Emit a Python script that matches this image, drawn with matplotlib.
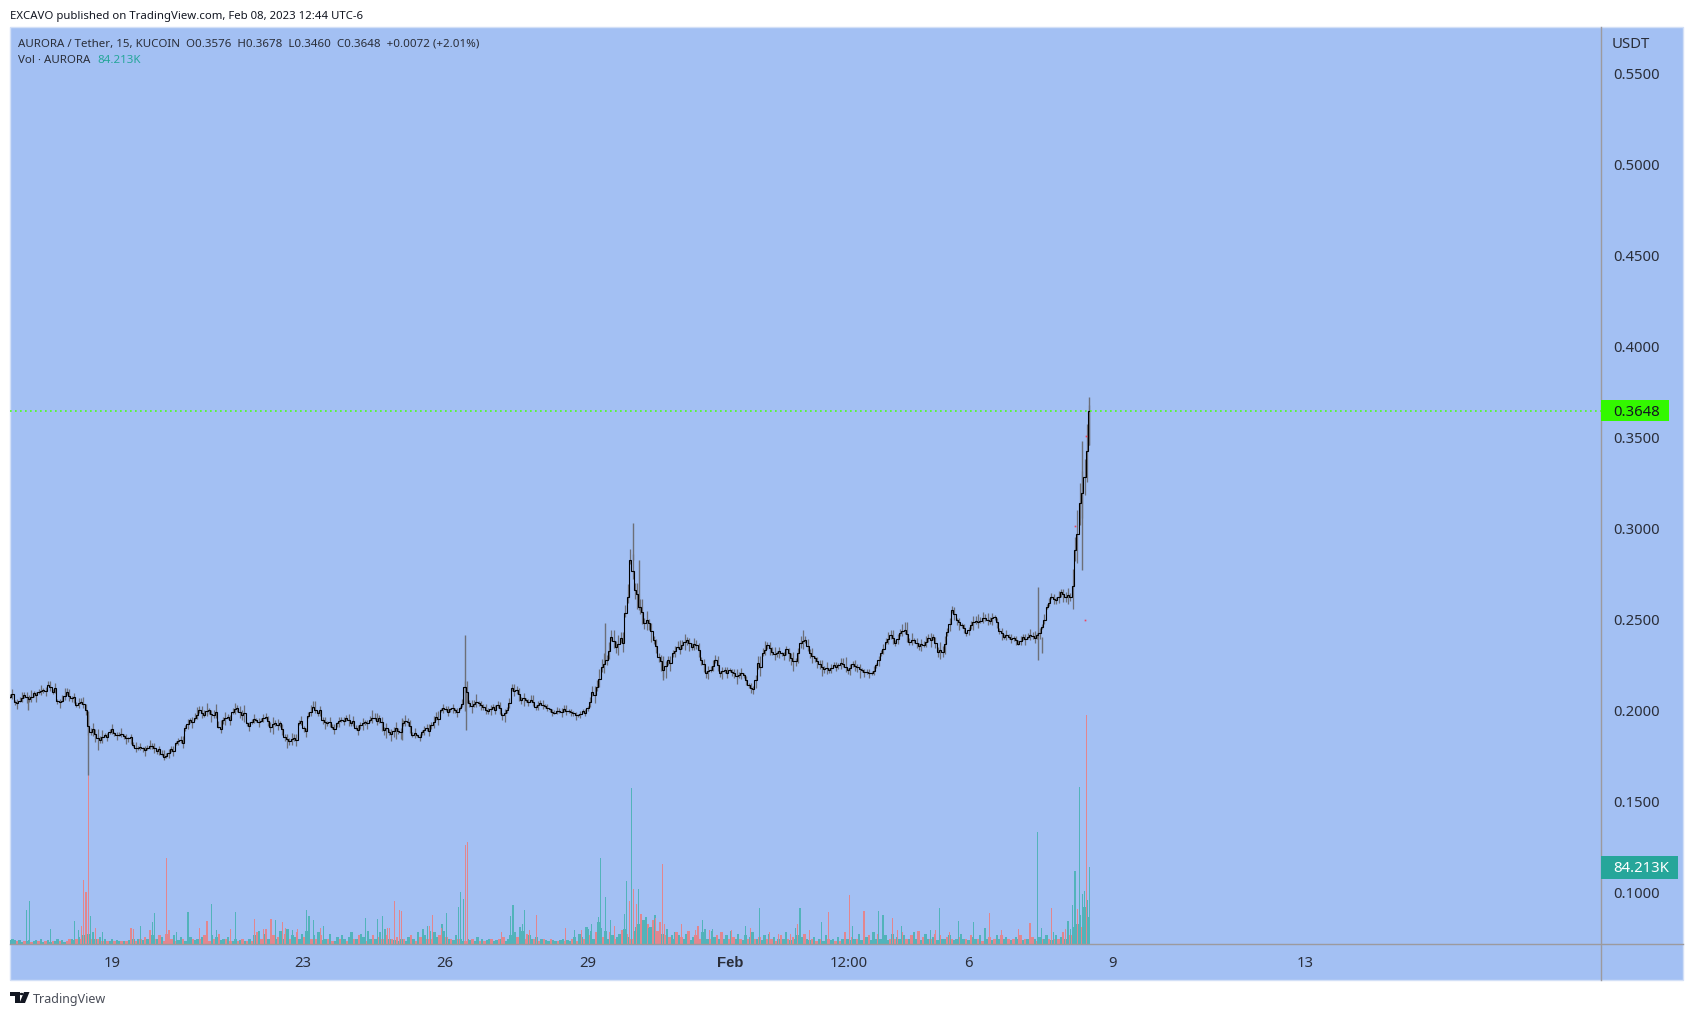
import numpy as np
import matplotlib
matplotlib.use("Agg")
import matplotlib.pyplot as plt
from matplotlib.patches import Rectangle, Polygon, Circle
from matplotlib.lines import Line2D

# ---- values ----
close = [
.2078,.2050,.2056,.2087,.2063,.2096,.2101,.2114,.2142,.2105,.2056,.2056,.2105,.2069,.2032,.2050,.2005,.1886,.1870,.1840,
.1867,.1886,.1876,.1867,.1860,.1850,.1812,.1794,.1794,.1794,.1807,.1781,.1761,.1752,.1789,.1822,.1840,.1904,.1950,.1959,
.2005,.1977,.2005,.1977,.1913,.1950,.1968,.1995,.2014,.1977,.1931,.1940,.1950,.1946,.1968,.1913,.1931,.1931,.1858,.1835,
.1849,.1931,.1904,.1970,.2023,.1986,.1950,.1931,.1913,.1931,.1950,.1959,.1931,.1904,.1922,.1940,.1950,.1959,.1959,.1895,
.1886,.1891,.1891,.1931,.1940,.1867,.1867,.1885,.1903,.1922,.1967,.2004,.2008,.2008,.2004,.2013,.2132,.2041,.2037,.2041,
.2019,.2000,.2019,.2031,.1976,.2004,.2123,.2114,.2059,.2059,.2062,.2022,.2044,.2026,.2008,.1989,.2000,.2008,.2000,.1989,
.1976,.2000,.2013,.2105,.2130,.2242,.2279,.2407,.2352,.2398,.2535,.2828,.2663,.2571,.2480,.2480,.2388,.2297,.2224,.2279,
.2315,.2352,.2361,.2388,.2352,.2361,.2279,.2205,.2224,.2279,.2205,.2224,.2224,.2205,.2196,.2196,.2141,.2117,.2260,.2315,
.2361,.2324,.2315,.2315,.2337,.2288,.2275,.2370,.2388,.2315,.2288,.2257,.2228,.2224,.2251,.2251,.2257,.2224,.2257,.2242,
.2224,.2215,.2206,.2251,.2315,.2379,.2416,.2374,.2425,.2443,.2379,.2388,.2356,.2361,.2398,.2403,.2324,.2324,.2434,.2553,
.2498,.2471,.2425,.2471,.2495,.2495,.2507,.2495,.2513,.2440,.2406,.2406,.2397,.2369,.2406,.2406,.2410,.2415,.2461,.2571,
.2626,.2607,.2653,.2626,.2626,.2882,.3138,.3284,.3648]

# wick reach above / below the close, in 0.0001 price units
wick_up = [
15,12,20,14,25,10,18,12,22,16,8,28,20,10,14,22,30,18,30,22,
12,14,10,16,12,8,18,12,10,20,16,8,22,14,16,10,20,18,12,28,
24,30,12,26,32,18,14,22,16,30,10,16,8,12,18,24,20,12,14,18,
22,16,10,24,30,14,18,12,16,10,14,20,12,18,14,10,24,28,16,18,
14,22,12,18,20,16,8,12,24,18,26,14,18,10,12,14,30,18,24,12,
20,14,16,22,12,18,26,20,16,12,26,10,14,12,8,14,16,22,12,10,
8,12,16,30,38,40,28,34,30,36,44,60,36,44,30,26,22,20,18,24,
16,30,26,18,22,26,18,16,20,30,12,18,10,26,16,12,14,18,40,30,
18,26,14,10,16,30,16,40,20,26,14,22,18,12,16,14,34,12,18,16,
10,12,14,12,18,22,26,14,24,46,22,14,16,20,24,18,26,30,20,24,
14,12,10,20,28,22,26,18,14,16,16,14,12,18,16,20,22,14,18,16,
18,20,14,24,20,70,110,100,30]
wick_dn = [
10,16,8,18,12,20,10,14,8,12,18,10,16,20,12,10,26,20,40,18,
10,16,12,8,14,20,12,10,18,8,14,16,10,12,14,10,16,14,18,10,
16,12,24,18,10,22,14,12,20,28,16,10,14,8,12,30,14,18,26,20,
14,10,18,12,8,14,20,16,12,18,10,14,16,12,22,18,14,10,26,30,
20,34,18,14,22,12,10,16,14,20,18,12,10,14,16,8,36,22,16,14,
12,18,10,14,28,16,12,22,24,10,12,18,14,10,12,8,14,12,10,18,
12,10,14,26,22,30,26,24,36,28,20,24,50,40,30,36,24,30,40,26,
20,14,24,26,16,20,26,24,12,18,22,14,10,26,18,16,18,24,30,14,
22,16,20,12,28,34,30,24,14,24,22,30,18,16,12,20,14,22,16,28,
12,14,10,18,12,14,20,16,14,24,18,16,22,12,20,14,30,30,22,16,
26,14,12,24,18,12,14,20,16,20,14,12,14,10,18,14,16,20,12,10,
14,20,26,30,24,60,120,100,190]

# the chop between those readings: each value is relative to the reading before it
mid_off = [
12,-8,15,-10,14,-12,10,-6,-14,18,-10,24,-22,8,10,-12,-90,14,-22,16,
-12,14,-10,8,-12,6,-14,10,-8,12,-10,8,-12,14,-8,10,-14,22,-10,18,
-16,20,-22,18,-14,12,-16,14,-18,10,-12,14,-10,12,-26,12,-10,-30,-14,12,
-12,14,-16,26,-18,16,-14,10,-12,14,-8,-12,14,-10,12,-8,12,-14,-22,10,
-14,12,-10,14,-24,10,-12,10,-14,18,-12,10,-14,8,-10,24,-30,-12,14,-10,
-14,10,-12,-18,12,40,-14,-22,10,-12,-14,12,-10,-8,-12,8,-6,-10,-8,-10,
8,-12,34,-18,42,14,50,-22,16,-26,90,-60,-22,-30,16,-40,-30,-26,22,-18,
14,-12,14,-18,12,-30,-24,14,20,-26,12,-14,-12,-16,10,-26,-14,50,-20,18,
-16,-14,12,-10,-18,-14,40,12,-30,-12,-16,-14,8,12,-10,14,-14,12,-10,-14,
-12,-8,14,26,22,16,-14,20,14,-24,12,-14,10,14,-12,-30,10,40,44,-24,
-12,-18,16,14,-10,12,-10,12,-28,-14,10,-12,-10,14,-12,10,-8,14,40,22,
-14,18,-12,10,60,90,60,140]
mid_up = [
30,22,34,26,38,20,28,24,36,30,18,44,34,22,28,36,60,34,52,38,
22,26,20,28,24,18,30,22,20,32,28,18,36,24,28,20,34,30,24,44,
40,48,24,42,52,30,26,36,28,46,20,28,18,24,30,40,32,24,26,30,
36,28,20,38,48,26,30,24,28,20,26,34,24,30,26,20,40,44,28,30,
26,38,24,30,34,28,18,24,40,30,42,26,30,20,24,26,60,30,40,22,
30,24,26,34,22,28,40,32,26,20,40,18,24,20,14,22,24,34,18,16,
14,22,28,50,60,62,46,56,50,60,70,90,60,70,50,44,36,34,30,40,
28,48,44,30,36,42,30,28,34,48,22,30,18,42,28,22,24,30,60,48,
30,42,24,18,28,48,28,60,34,42,24,36,30,22,28,24,54,22,30,28,
20,22,24,22,30,36,42,26,40,70,36,26,28,34,40,30,42,48,34,40,
26,22,20,34,46,36,42,30,26,28,28,26,22,30,28,34,36,26,30,28,
30,34,26,40,90,130,120,150]
mid_dn = [
24,30,20,34,26,36,22,28,20,26,32,22,30,36,26,22,50,36,64,32,
20,30,24,18,28,36,26,20,32,18,28,30,20,24,28,22,30,28,34,22,
30,26,42,34,22,38,28,26,36,48,30,22,28,18,26,50,28,34,46,36,
28,22,34,26,18,28,36,30,26,34,22,28,30,26,40,34,28,22,46,52,
38,56,34,28,40,26,22,30,28,36,34,24,22,28,30,18,60,40,30,28,
24,34,22,28,48,30,26,40,42,20,24,32,26,20,24,16,26,22,18,30,
22,18,26,46,40,50,46,42,60,48,36,44,80,64,50,60,42,50,66,44,
36,28,42,44,30,36,44,42,24,32,40,28,22,44,32,30,32,42,50,28,
38,30,36,24,48,56,50,42,28,42,38,50,32,30,24,36,28,38,30,48,
24,28,22,32,24,28,36,30,28,42,32,30,38,24,36,28,50,50,38,30,
44,28,24,42,32,24,28,36,30,36,28,24,28,20,32,28,30,36,24,20,
28,36,44,50,130,160,140,170]

# long single wicks: day, low, high
spike_day = [-1.78,-0.514,6.10,7.417,7.445,10.37,10.96,11.07,11.58,19.47,19.57,20.41,20.56]
spike_low = [.2005,.1648,.1839,.2000,.1894,.2279,.2828,.2553,.2169,.2278,.2315,.2772,.3458]
spike_high= [.2063,.2000,.1960,.2416,.2130,.2480,.3029,.2828,.2300,.2680,.2406,.3482,.3724]

# small red marks near the last rally
dot_day = [20.25,20.50,20.46]
dot_price = [.3014,.3508,.2498]

# volume in thousands; minus means a falling bar
vol_base = [
4,5,4,-3,4,2,-3,3,4,-2,3,4,-3,5,2,-3,4,2,-3,3,
5,-3,4,2,-3,-5,6,4,-5,8,-6,10,-8,11,-6,13,5,-5,8,-3,
6,-3,3,5,-3,4,3,-3,3,-3,4,-5,6,-3,5,-6,4,-8,5,-13,
10,-6,5,-10,8,-3,-11,6,-5,10,-3,4,8,-5,3,-6,8,-5,4,6,
-5,8,-10,6,-3,10,-5,8,-11,4,6,-5,8,-3,3,5,-3,4,-6,3,
-3,5,-3,10,-13,14,-6,11,-16,5,13,-10,6,-8,14,5,-11,16,-6,10,
8,-13,5,11,-8,14,19,-6,10,-5,13,-10,4,6,-5,11,-3,3,8,-5,
10,6,-3,8,13,-6,5,-10,11,8,-3,14,6,-10,5,-8,13,-6,16,-10,
6,-5,4,-8,3,6,-5,3,8,-10,5,-3,13,-8,16,10,-6,14,-5,13,
8,-10,22,14,-8,6,-5,4,10,-6,5,3,-3,6,4,-5,3,8,-3,5,
-3,4,6,-5,3,4,-6,5,-8,3,6,10,-5,13,-8,19,14,-6,-11,10,
6,-5,8,-3,5,-6,4,3,-5,4,3,-3,4,5,-3,4,3,-5,8,-3,
11,8,-5,19,-10,14,6,-13,24,18,-8,14,6,-13,10,-5,8,11,-10,16,
-11,8,-6,14,19,22,-14,26,29,-22,19,-26,32,-14,-24,11,-10,16,-8,10,
6,-13,10,-8,5,11,-14,4,8,-10,5,-6,13,-8,6,-5,14,8,-10,5,
-13,6,10,-5,14,-8,5,11,-6,4,10,-5,8,13,-6,5,-8,4,10,-6,
11,-5,8,-3,6,-10,5,13,-6,4,-8,5,10,-5,8,-11,6,4,-5,8,
-3,6,-5,3,10,-6,4,5,-3,8,-3,5,-10,6,4,-8,5,-6,11,4,
-5,8,-10,4,13,6,-11,5,-8,10,4,-6,11,-5,8,5,-13,10,-6,5,
-10,13,6,-14,4,-8,11,5,-6,8,-11,4,-10,6,5,-8,10,-5,4,6,
-8,11,5,-6,4,-10,8,5,-6,10,-3,8,5,-8,4,-6,10,5,-10,6,
8,-5,4,-6,8,5,-10,4,-5,6,10,-8,5,-3,8,-6,5,10,-5,4,
-6,10,-5,8,-13,6,14,-10,19,-16,22,32,-19,40,48,29]
peak_bar = [7,8,17,27,29,30,31,32,33,34,36,39,51,52,55,59,60,61,66,67,70,75,80,83,85,87,93,95,103,107,108,110,112,
115,116,119,121,125,126,128,131,132,150,155,157,159,160,162,164,165,176,177,178,182,184,189,190,191,192,193,
207,211,212,216,217,219,222,234,238,241,244,245,248,249,251,253,255,258,259,260,261,262,263,264,265,266,269,272,275,276,280,283,
289,290,292,293,295,296,304,310,312,316,320,324,329,331,332,333,337,342,345,352,354,355,360,366,368,372,374,376,
388,390,392,396,400,406,411,413,418,425,430,433,435,439,440,445,446,447,448,449,450,451,452,453,454,455]
peak_vol = [37,47,16,25,15,-20,-70,-57,-185,31,-18,13,-18,-16,20,-15,24,34,-94,-15,13,35,-18,-25,44,15,-16,35,-27,-16,-11,-27,26,
-24,-18,15,-16,37,31,26,-18,20,28,27,31,-18,-18,-47,-37,-36,20,-20,-32,-18,34,40,57,49,-108,-112,
-13,31,43,22,37,-15,-32,-18,15,-15,16,22,29,94,51,26,-20,-15,33,69,-47,171,-60,-44,60,-33,18,-28,-88,-22,13,-22,
-15,-20,26,16,-15,16,-15,20,-18,39,-13,-11,-11,18,-22,39,-15,24,-35,-13,-54,20,-36,36,32,-28,-15,20,
15,-15,39,-13,25,24,18,-34,-15,-16,-23,123,18,-39,13,-16,25,16,43,80,-38,172,55,58,-250,84.213]

price_ticks = [0.10,0.15,0.20,0.25,0.30,0.35,0.40,0.45,0.50,0.55]
date_ticks = [0,4,7,10,13,15.5,18.02,21.05,25.1]   # days after Jan 19
date_labels = ["19","23","26","29","Feb","12:00","6","9","13"]

last_price = 0.3648
last_volume = "84.213K"

# ---- layout ----
W, H = 1693, 1015
BG = "#A3C0F3"
INK = "#2A2E39"
TEAL = "#26A69A"
GREEN_BAR = "#52B3BA"
RED_BAR = "#E2868E"
FONT = ["Noto Sans", "DejaVu Sans"]
plt.rcParams["font.family"] = FONT

def fx(p): return p / W
def fy(p): return 1 - p / H

fig = plt.figure(figsize=(W / 100, H / 100), dpi=100, facecolor="white")

L, R, T, B = 10, 1601, 27, 980
rect = [fx(L), fy(B), fx(R - L), (B - T) / H]
fig.add_artist(Rectangle((fx(L), fy(B)), fx(1683 - L), (B - T) / H, transform=fig.transFigure,
                         facecolor=BG, edgecolor="#D3E0F7", lw=1, zorder=-5))

xlim = ((L - 112.7) / 47.5, (R - 112.7) / 47.5)

# volume
axv = fig.add_axes(rect, facecolor="none", zorder=1)
base = np.array(vol_base, dtype=float)
vdays = np.linspace(-2.16, 20.56, len(base))
axv.bar(vdays, np.abs(base), width=0.05, color=np.where(base >= 0, GREEN_BAR, RED_BAR), linewidth=0)
pk = np.array(peak_vol, dtype=float)
axv.bar(vdays[peak_bar], np.abs(pk), width=0.024, color=np.where(pk >= 0, GREEN_BAR, RED_BAR), linewidth=0)
axv.set_xlim(*xlim)
axv.set_ylim(-36 * 1.0937, (944 - 27) * 1.0937)
axv.axis("off")

# price
ax = fig.add_axes(rect, facecolor="none", zorder=2)
close_a = np.array(close)
days = np.linspace(-2.16, 20.56, len(close_a))
mid_days = days[:-1] + (days[1] - days[0]) / 2
mid_vals = close_a[:-1] + np.array(mid_off) * 1e-4
WICK = "#6C6F78"
ax.vlines(days, close_a - np.array(wick_dn) * 1e-4, close_a + np.array(wick_up) * 1e-4, color=WICK, lw=0.9)
ax.vlines(mid_days, mid_vals - np.array(mid_dn) * 1e-4, mid_vals + np.array(mid_up) * 1e-4, color=WICK, lw=0.9)
ax.vlines(spike_day, spike_low, spike_high, color=WICK, lw=1.0)
all_days = np.empty(len(days) + len(mid_days))
all_days[0::2] = days
all_days[1::2] = mid_days
all_vals = np.empty_like(all_days)
all_vals[0::2] = close_a
all_vals[1::2] = mid_vals
ax.plot(all_days, all_vals, color="black", lw=0.8, drawstyle="steps-mid", solid_joinstyle="miter")
ax.plot(dot_day, dot_price, ls="none", marker="s", ms=1.2, mew=0, color="#F0405A")
ax.axhline(last_price, color="#4CFF1A", lw=1.2, ls=(0, (1, 2)))
ax.set_xlim(*xlim)
ax.set_ylim(0.1 + (893 - B) / 1822, 0.1 + (893 - T) / 1822)
for s in ax.spines.values():
    s.set_visible(False)
ax.yaxis.tick_right()
ax.set_yticks(price_ticks)
ax.set_yticklabels(["%.4f" % t for t in price_ticks])
ax.set_xticks(date_ticks)
ax.set_xticklabels(date_labels)
ax.tick_params(axis="y", length=0, pad=8.5, labelsize=10.7, labelcolor=INK)
ax.tick_params(axis="x", length=0, pad=-17, labelsize=10.7, labelcolor=INK)
feb = ax.get_xticklabels()[4]
feb.set_family("Liberation Sans")
feb.set_fontweight("bold")

# frame lines
fig.add_artist(Line2D([fx(L), fx(1683)], [fy(944), fy(944)], color="#9C9A9E", lw=1, zorder=5))
fig.add_artist(Line2D([fx(R), fx(R)], [fy(T), fy(B)], color="#9C9A9E", lw=1, zorder=5))

# last value boxes
fig.add_artist(Rectangle((fx(R), fy(421)), fx(68), 21 / H, transform=fig.transFigure,
                         facecolor="#33F800", lw=0, zorder=6))
fig.text(fx(1613), fy(412), "%.4f" % last_price, color="#131722", fontsize=10.7, va="center", zorder=7)
fig.add_artist(Rectangle((fx(R), fy(879)), fx(77), 23 / H, transform=fig.transFigure,
                         facecolor=TEAL, lw=0, zorder=6))
fig.text(fx(1613), fy(869), last_volume, color="white", fontsize=10.7, va="center", zorder=7)

# texts
fig.text(fx(1612), fy(44), "USDT", color=INK, fontsize=10.7, va="center")
fig.text(fx(10), fy(17), "EXCAVO published on TradingView.com, Feb 08, 2023 12:44 UTC-6",
         color="#131722", fontsize=8.2, va="center")
fig.text(fx(18), fy(44), "AURORA / Tether, 15, KUCOIN  O0.3576  H0.3678  L0.3460  C0.3648  +0.0072 (+2.01%)",
         color=INK, fontsize=8.3, va="center")
fig.text(fx(18), fy(60.5), "Vol · AURORA", color=INK, fontsize=8.3, va="center")
fig.text(fx(97), fy(60.5), last_volume, color=TEAL, fontsize=8.3, va="center")

# logo
LOGO = "#131722"
def poly(pts):
    fig.add_artist(Polygon([(fx(x), fy(y)) for x, y in pts], closed=True, transform=fig.transFigure,
                           facecolor=LOGO, lw=0, zorder=6))
poly([(10, 992), (19.5, 992), (19.5, 1003), (14.5, 1003), (14.5, 996), (10, 996)])
poly([(24, 992), (29.5, 992), (25, 1003), (19.5, 1003)])
fig.add_artist(Circle((fx(21.6), fy(994)), 2.0 / W, transform=fig.transFigure, facecolor=LOGO, lw=0, zorder=6))
fig.text(fx(33), fy(999.5), "TradingView", color="#4A4E59", fontsize=9.0, va="center")

fig.savefig("out.png", dpi=100, facecolor="white")
